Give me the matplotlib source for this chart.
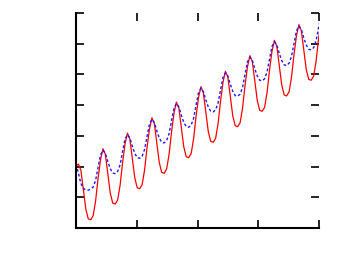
# 兩條週期曲線 (紅: 實線, 藍: 虛線)
import numpy as np
import matplotlib
matplotlib.use('Agg')
import matplotlib.pyplot as plt

# 取樣位置 (每週期 10 點)
x = np.arange(101) / 10.0

# 紅色曲線
red = [2.02, 2.08, 1.88, 1.25, 0.62, 0.30, 0.27, 0.40, 0.88, 1.61,
       2.22, 2.58, 2.39, 1.76, 1.13, 0.81, 0.78, 0.91, 1.39, 2.12,
       2.73, 3.09, 2.89, 2.26, 1.63, 1.31, 1.28, 1.41, 1.89, 2.62,
       3.23, 3.59, 3.39, 2.76, 2.13, 1.81, 1.78, 1.92, 2.40, 3.13,
       3.74, 4.10, 3.90, 3.27, 2.64, 2.32, 2.29, 2.42, 2.90, 3.63,
       4.24, 4.60, 4.40, 3.77, 3.14, 2.82, 2.79, 2.92, 3.40, 4.13,
       4.74, 5.10, 4.91, 4.28, 3.65, 3.33, 3.30, 3.43, 3.91, 4.64,
       5.25, 5.61, 5.41, 4.78, 4.15, 3.83, 3.80, 3.93, 4.41, 5.14,
       5.75, 6.11, 5.91, 5.28, 4.65, 4.33, 4.30, 4.44, 4.92, 5.65,
       6.26, 6.62, 6.42, 5.79, 5.16, 4.84, 4.81, 4.94, 5.42, 6.15,
       6.76]

# 藍色曲線
blue = [2.08, 1.78, 1.45, 1.29, 1.24, 1.23, 1.27, 1.33, 1.55, 1.97,
        2.38, 2.53, 2.43, 2.16, 1.93, 1.79, 1.77, 1.84, 2.06, 2.48,
        2.89, 3.04, 2.93, 2.66, 2.43, 2.29, 2.27, 2.34, 2.56, 2.98,
        3.39, 3.54, 3.43, 3.16, 2.93, 2.79, 2.77, 2.85, 3.07, 3.49,
        3.90, 4.05, 3.94, 3.67, 3.44, 3.30, 3.28, 3.35, 3.57, 3.99,
        4.40, 4.55, 4.44, 4.17, 3.94, 3.80, 3.78, 3.85, 4.07, 4.49,
        4.90, 5.05, 4.95, 4.68, 4.45, 4.31, 4.29, 4.36, 4.58, 5.00,
        5.41, 5.56, 5.45, 5.18, 4.95, 4.81, 4.79, 4.86, 5.08, 5.50,
        5.91, 6.06, 5.95, 5.68, 5.45, 5.31, 5.29, 5.37, 5.59, 6.01,
        6.42, 6.57, 6.46, 6.19, 5.96, 5.82, 5.80, 5.87, 6.09, 6.51,
        6.92]

xmax = 9.92

fig = plt.figure(figsize=(3.39, 2.70), dpi=100)
ax = fig.add_axes([76/339, 42/270, 243/339, 215/270])

ax.plot(x, red, color='#ff0000', lw=0.9)
ax.plot(x, blue, color='#1a1aff', lw=1.0, linestyle=(0, (2, 1.6)))

ax.set_xlim(0, xmax)
ax.set_ylim(0, 7)
ax.set_xticks(np.linspace(0, xmax, 5))
ax.set_yticks(range(8))

# 只留左邊和下邊的框線
ax.spines['top'].set_visible(False)
ax.spines['right'].set_visible(False)
ax.spines['left'].set_linewidth(1.5)
ax.spines['bottom'].set_linewidth(1.5)

ax.tick_params(direction='in', top=True, right=True, length=6,
               width=1.2, labelleft=False, labelbottom=False)

fig.savefig('out.png', dpi=100)
